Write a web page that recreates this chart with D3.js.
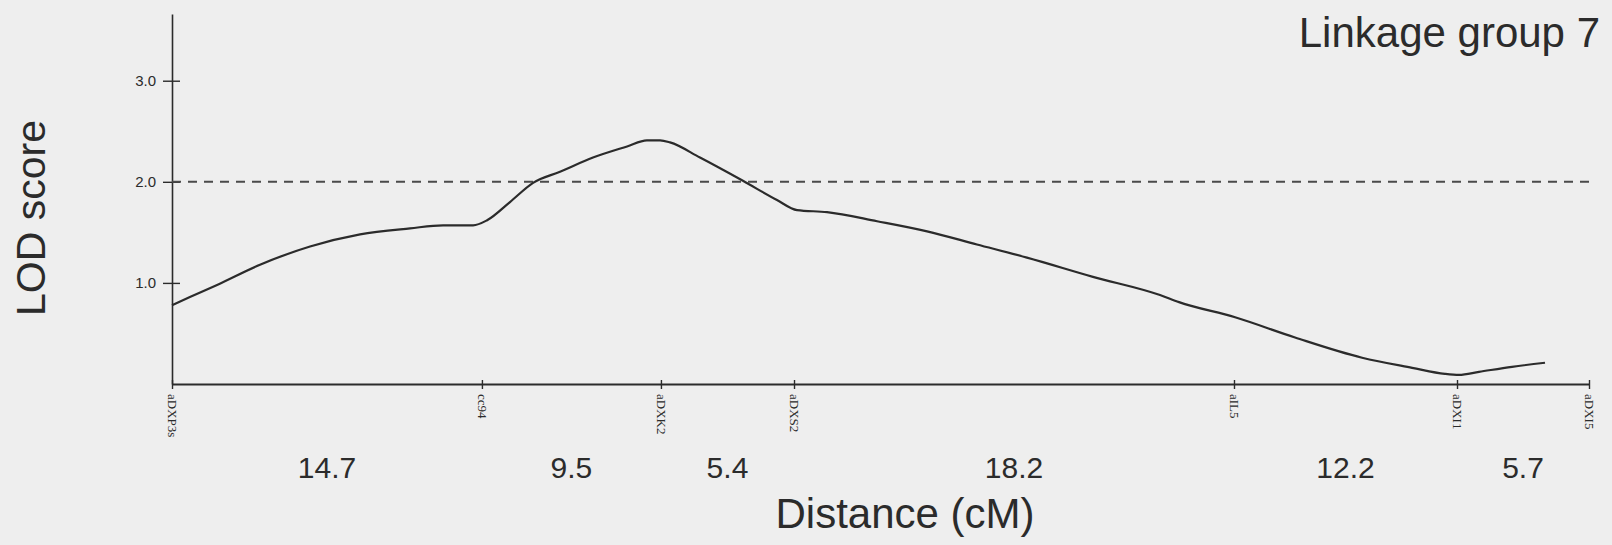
<!DOCTYPE html>
<html>
<head>
<meta charset="utf-8">
<script src="https://cdn.jsdelivr.net/npm/d3@7"></script>
<style>
  html, body { margin: 0; padding: 0; background: #eeeeee; overflow: hidden; }
  svg { display: block; }
</style>
</head>
<body>
<div id="chart"></div>
<script>
'use strict';

// markers on linkage group 7, position in cM
var markerNames = ['aDXP3s', 'cc94', 'aDXK2', 'aDXS2', 'aIL5', 'aDXI1', 'aDXI5'];
var markerPos = [0, 14.37, 22.67, 28.84, 49.24, 59.58, 65.7];

// distances printed between neighbouring markers
var intervalLabels = ['14.7', '9.5', '5.4', '18.2', '12.2', '5.7'];

// LOD profile
var lodPos = [0, 0.83, 2.09, 4.08, 6.40, 8.72, 11.04, 12.57, 13.96, 14.61, 15.67,
  16.74, 17.99, 19.52, 21.10, 22.02, 22.63, 23.09, 24.48, 26.47, 28.05, 28.98,
  30.37, 32.69, 35.01, 37.32, 39.64, 42.70, 45.81, 46.69, 49.29, 52.07, 55.18,
  57.50, 59.02, 59.67, 60.60, 62.13, 63.66];
var lodScore = [0.78, 0.86, 0.98, 1.18, 1.36, 1.48, 1.54, 1.57, 1.57, 1.62, 1.80,
  1.99, 2.10, 2.24, 2.35, 2.41, 2.41, 2.39, 2.24, 2.01, 1.82, 1.72,
  1.70, 1.61, 1.51, 1.38, 1.25, 1.06, 0.88, 0.81, 0.66, 0.46, 0.26,
  0.16, 0.10, 0.09, 0.12, 0.17, 0.21];

var yTicks = [1, 2, 3];
var threshold = 2.0;
var yMax = 3.66;

var width = 1612, height = 545;
var margin = { top: 14, right: 23, bottom: 161, left: 172 };

var svg = d3.select('#chart').append('svg')
  .attr('width', width)
  .attr('height', height);

svg.append('rect')
  .attr('width', width)
  .attr('height', height)
  .attr('fill', '#eeeeee');

var chart = svg.append('g')
  .attr('transform', 'translate(' + margin.left + ',' + margin.top + ')');

var innerWidth = width - margin.left - margin.right;
var innerHeight = height - margin.top - margin.bottom;

var x = d3.scaleLinear()
  .domain([0, d3.max(markerPos)])
  .range([0, innerWidth]);

var y = d3.scaleLinear()
  .domain([0, yMax])
  .range([innerHeight, 0]);

var ink = '#2b2b2b';
var sans = '"Liberation Sans", Arial, Helvetica, sans-serif';

// y axis, ticks crossing the line
var yAxis = d3.axisLeft(y)
  .tickValues(yTicks)
  .tickFormat(d3.format('.1f'))
  .tickSizeOuter(0);

var gy = chart.append('g').attr('class', 'yAxis').call(yAxis);
gy.select('.domain').attr('stroke', ink).attr('stroke-width', 1.6);
gy.selectAll('.tick line')
  .attr('x1', -9).attr('x2', 8)
  .attr('stroke', ink).attr('stroke-width', 1.4);
gy.selectAll('.tick text')
  .attr('x', -16)
  .attr('fill', ink)
  .style('font-family', sans)
  .style('font-size', '15px');

// x axis with marker names
var xAxis = d3.axisBottom(x)
  .tickValues(markerPos)
  .tickFormat(function(d, i) { return markerNames[i]; })
  .tickSizeOuter(0);

var gx = chart.append('g').attr('class', 'xAxis')
  .attr('transform', 'translate(0,' + innerHeight + ')')
  .call(xAxis);
gx.select('.domain').attr('stroke', ink).attr('stroke-width', 1.8);
gx.selectAll('.tick line')
  .attr('y1', -4).attr('y2', 5)
  .attr('stroke', ink).attr('stroke-width', 1.4);
gx.selectAll('.tick text')
  .attr('transform', 'rotate(90)')
  .attr('x', 10)
  .attr('y', 0)
  .attr('dy', '0.35em')
  .attr('text-anchor', 'start')
  .attr('fill', ink)
  .style('font-family', '"Liberation Serif", "Times New Roman", serif')
  .style('font-size', '13px');

// significance threshold
chart.append('line')
  .attr('class', 'threshold')
  .attr('x1', x(0)).attr('x2', x(d3.max(markerPos)))
  .attr('y1', y(threshold)).attr('y2', y(threshold))
  .attr('stroke', '#4a4a4a')
  .attr('stroke-width', 2)
  .attr('stroke-dasharray', '9,7');

// LOD curve
var lodData = lodPos.map(function(p, i) { return { pos: p, lod: lodScore[i] }; });

var line = d3.line()
  .x(function(d) { return x(d.pos); })
  .y(function(d) { return y(d.lod); })
  .curve(d3.curveMonotoneX);

chart.append('path')
  .datum(lodData)
  .attr('class', 'lod line')
  .attr('d', line)
  .attr('fill', 'none')
  .attr('stroke', ink)
  .attr('stroke-width', 2.2);

// interval distances, centred between markers
chart.selectAll('text.interval')
  .data(intervalLabels)
  .enter()
  .append('text')
  .attr('class', 'interval')
  .attr('x', function(d, i) { return x((markerPos[i] + markerPos[i + 1]) / 2); })
  .attr('y', innerHeight + 94)
  .attr('text-anchor', 'middle')
  .attr('fill', ink)
  .style('font-family', sans)
  .style('font-size', '30px')
  .text(function(d) { return d; });

// axis titles
svg.append('text')
  .attr('transform', 'translate(45,218) rotate(-90)')
  .attr('text-anchor', 'middle')
  .attr('fill', ink)
  .style('font-family', sans)
  .style('font-size', '41px')
  .text('LOD score');

svg.append('text')
  .attr('x', 905)
  .attr('y', 528)
  .attr('text-anchor', 'middle')
  .attr('fill', ink)
  .style('font-family', sans)
  .style('font-size', '42px')
  .text('Distance (cM)');

svg.append('text')
  .attr('x', 1600)
  .attr('y', 47)
  .attr('text-anchor', 'end')
  .attr('fill', ink)
  .style('font-family', sans)
  .style('font-size', '42px')
  .text('Linkage group 7');
</script>
</body>
</html>
